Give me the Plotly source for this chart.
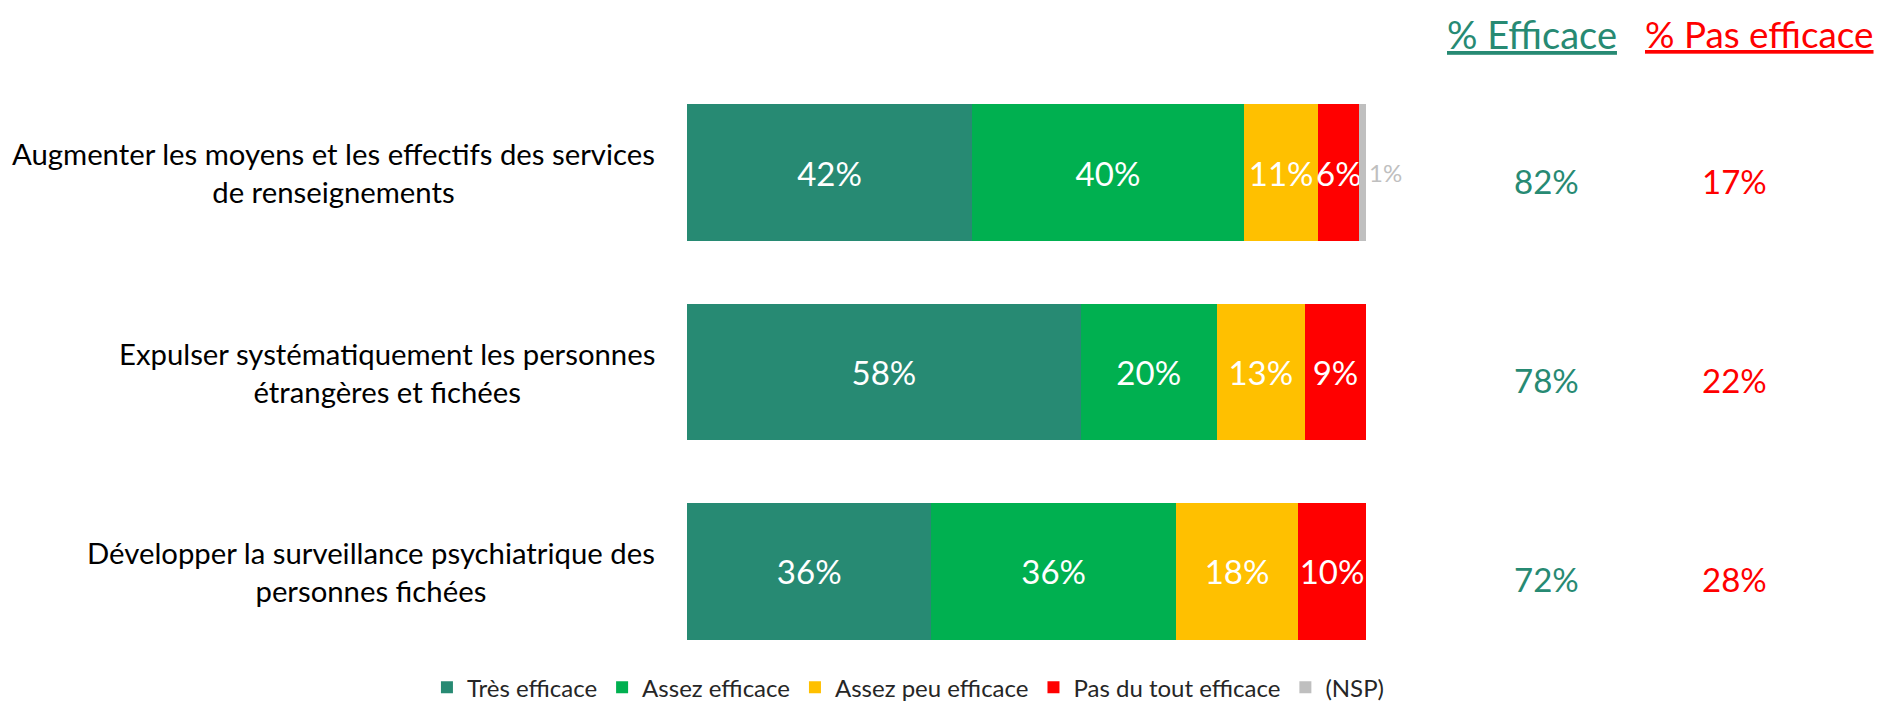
import plotly.graph_objects as go

categories = [
    "Augmenter les moyens et les effectifs des services<br>de renseignements",
    "Expulser systématiquement les personnes<br>étrangères et fichées",
    "Développer la surveillance psychiatrique des<br>personnes fichées",
]
series_names = ["Très efficace", "Assez efficace", "Assez peu efficace", "Pas du tout efficace", "(NSP)"]
tres = [42, 58, 36]
assez = [40, 20, 36]
assez_peu = [11, 13, 18]
pas_du_tout = [6, 9, 10]
nsp = [1, 0, 0]
colors = ["#278A73", "#00B050", "#FFC000", "#FF0000", "#BFBFBF"]

efficace = [a + b for a, b in zip(tres, assez)]
pas_efficace = [a + b for a, b in zip(assez_peu, pas_du_tout)]

FONT = "Lato"
series = [tres, assez, assez_peu, pas_du_tout, nsp]

fig = go.Figure()
for i, (name, vals, col) in enumerate(zip(series_names, series, colors)):
    last = i == len(series) - 1
    fig.add_trace(go.Bar(
        y=categories, x=vals, name=name, orientation="h",
        marker=dict(color=col, line=dict(width=0)),
        text=[(f"{v}%" if v > 0 else "") for v in vals],
        textposition="outside" if last else "inside",
        insidetextanchor="middle",
        constraintext="none",
        textangle=0,
        textfont=dict(family=FONT, size=24 if last else 33, color="#BFBFBF" if last else "white"),
        cliponaxis=False,
        hoverinfo="skip",
    ))

annotations = []
for cat in categories:
    annotations.append(dict(
        x=-0.0436, xref="paper", y=cat, yref="y", text=cat, showarrow=False,
        xanchor="right", yanchor="middle", align="center",
        font=dict(family=FONT, size=29.3, color="#000000"),
    ))
for cat, e, p in zip(categories, efficace, pas_efficace):
    annotations.append(dict(
        x=1.2664, xref="paper", y=cat, yref="y", text=f"{e}%", showarrow=False,
        xanchor="center", yanchor="middle", yshift=-8,
        font=dict(family=FONT, size=33, color="#278A73"),
    ))
    annotations.append(dict(
        x=1.543, xref="paper", y=cat, yref="y", text=f"{p}%", showarrow=False,
        xanchor="center", yanchor="middle", yshift=-8,
        font=dict(family=FONT, size=33, color="#FF0000"),
    ))
annotations.append(dict(
    x=1.244, xref="paper", y=1.066, yref="paper", text="<u>% Efficace</u>", showarrow=False,
    xanchor="center", yanchor="middle", font=dict(family=FONT, size=38, color="#278A73"),
))
annotations.append(dict(
    x=1.580, xref="paper", y=1.066, yref="paper", text="<u>% Pas efficace</u>", showarrow=False,
    xanchor="center", yanchor="middle", font=dict(family=FONT, size=36.8, color="#FF0000"),
))

fig.update_layout(
    width=1874, height=693,
    barmode="stack", bargap=0.313,
    margin=dict(l=679, r=516, t=65, b=30, autoexpand=False),
    paper_bgcolor="white", plot_bgcolor="white",
    xaxis=dict(range=[0, 100], visible=False, fixedrange=True),
    yaxis=dict(autorange="reversed", showticklabels=False, showgrid=False, zeroline=False, ticks=""),
    legend=dict(orientation="h", x=-0.383, xanchor="left", y=-0.028, yanchor="middle",
                font=dict(family=FONT, size=24, color="#262626"), traceorder="normal",
                itemwidth=30),
    annotations=annotations,
    showlegend=True,
)

fig.write_html("out.html")
